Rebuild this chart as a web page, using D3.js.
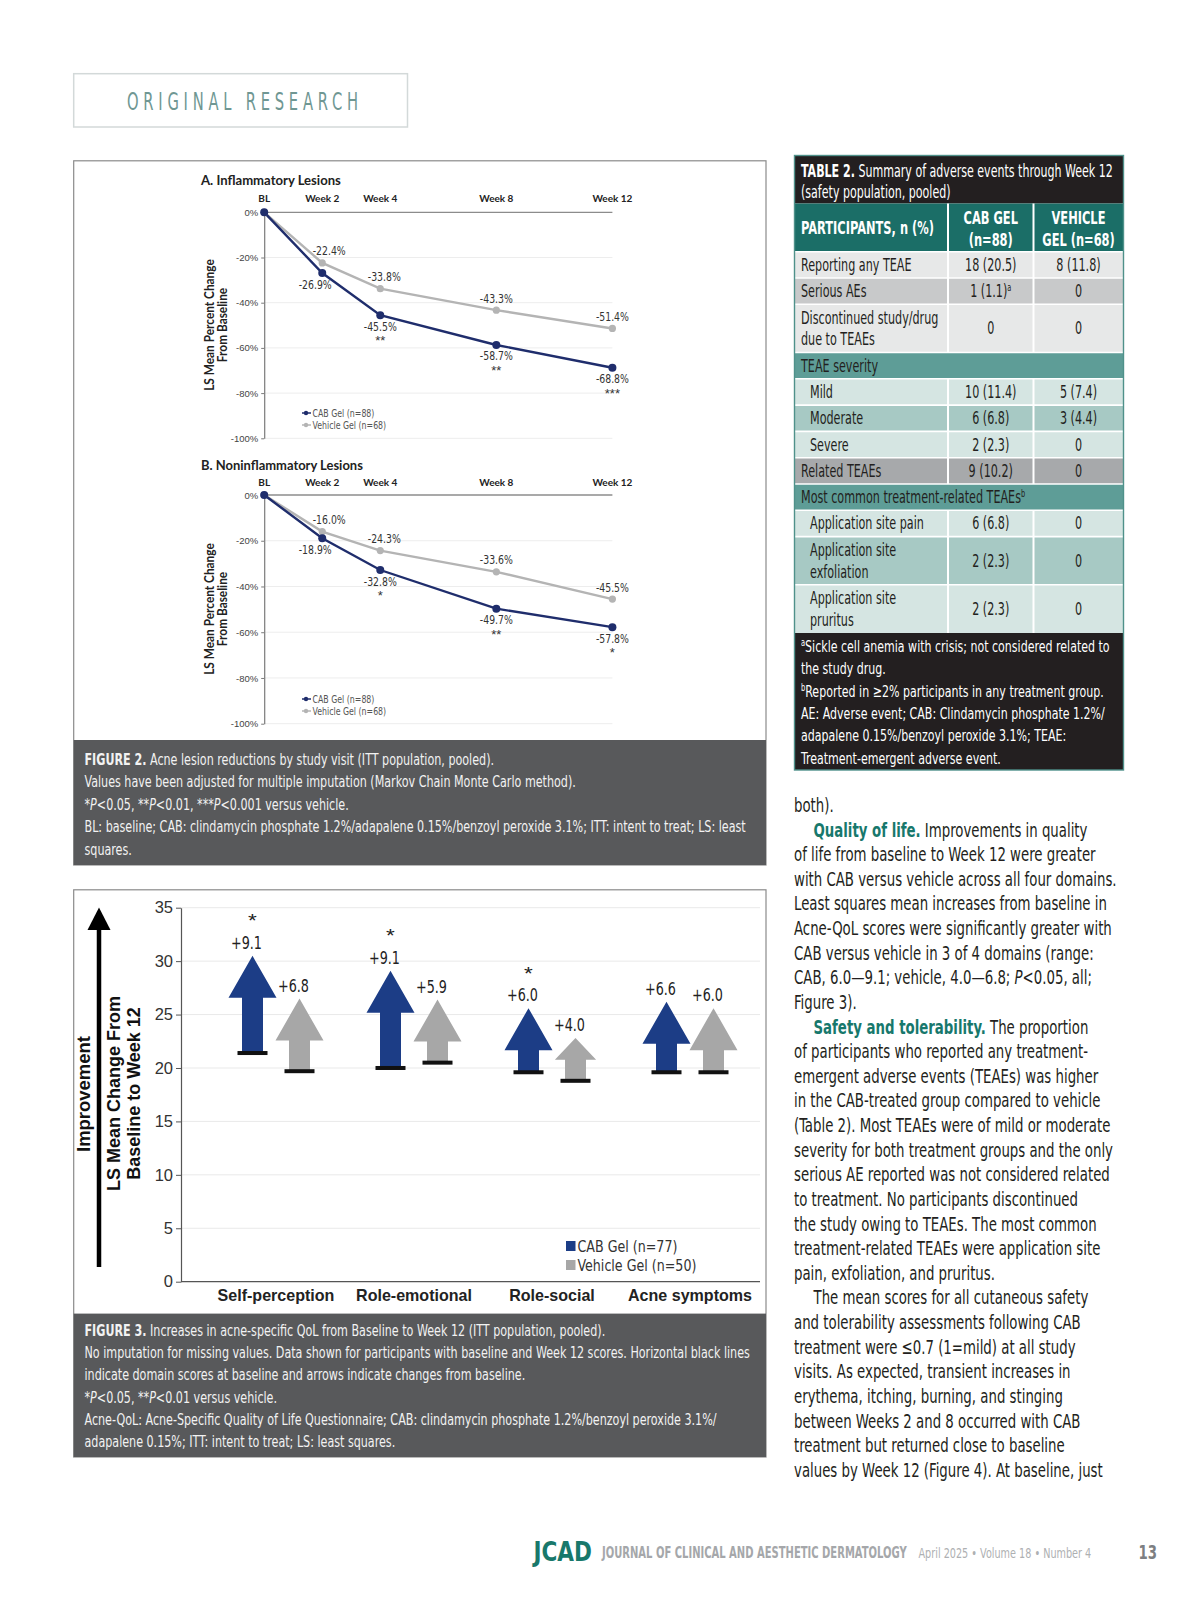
<!DOCTYPE html>
<html><head><meta charset="utf-8">
<script src="https://cdn.jsdelivr.net/npm/d3@7"></script>
<style>body{margin:0;background:#fff}</style>
</head><body>
<svg id="page" width="1200" height="1606"></svg>
<script>
// ---------------- DATA ----------------
const weeks = [0, 2, 4, 8, 12];
const weekLabels = ["BL", "Week 2", "Week 4", "Week 8", "Week 12"];
const pctTicks = [0, -20, -40, -60, -80, -100];
const inflamCAB = [0, -26.9, -45.5, -58.7, -68.8];
const inflamVeh = [0, -22.4, -33.8, -43.3, -51.4];
const inflamStars = ["", "", "**", "**", "***"];
const noninflamCAB = [0, -18.9, -32.8, -49.7, -57.8];
const noninflamVeh = [0, -16.0, -24.3, -33.6, -45.5];
const noninflamStars = ["", "", "*", "**", "*"];
const fig2Legend = ["CAB Gel (n=88)", "Vehicle Gel (n=68)"];

const domains = ["Self-perception", "Role-emotional", "Role-social", "Acne symptoms"];
const cabBaseline = [21.4, 20.0, 19.6, 19.6];
const cabChange = [9.1, 9.1, 6.0, 6.6];
const vehBaseline = [19.7, 20.5, 18.8, 19.6];
const vehChange = [6.8, 5.9, 4.0, 6.0];
const cabSig = ["*", "*", "*", ""];
const qolTicks = [0, 5, 10, 15, 20, 25, 30, 35];
const fig3Legend = ["CAB Gel (n=77)", "Vehicle Gel (n=50)"];

const tableHeader = ["PARTICIPANTS, n (%)", ["CAB GEL", "(n=88)"], ["VEHICLE", "GEL (n=68)"]];
const rowLabels = [["Reporting any TEAE"], ["Serious AEs"], ["Discontinued study/drug", "due to TEAEs"], ["TEAE severity"], ["Mild"], ["Moderate"], ["Severe"], ["Related TEAEs"], ["Most common treatment-related TEAEs"], ["Application site pain"], ["Application site", "exfoliation"], ["Application site", "pruritus"]];
const rowLabelNote = ["", "", "", "", "", "", "", "", "b", "", "", ""];
const rowCab = ["18 (20.5)", "1 (1.1)", "0", "", "10 (11.4)", "6 (6.8)", "2 (2.3)", "9 (10.2)", "", "6 (6.8)", "2 (2.3)", "2 (2.3)"];
const rowCabNote = ["", "a", "", "", "", "", "", "", "", "", "", ""];
const rowVeh = ["8 (11.8)", "0", "0", "", "5 (7.4)", "3 (4.4)", "0", "0", "", "0", "0", "0"];
const rowKinds = ["plain", "gray", "plain", "section", "sub", "subAlt", "sub", "related", "section", "sub", "subAlt", "sub"];

// ---------------- SETUP ----------------
const svg = d3.select("#page");
svg.append("rect").attr("width", 1200).attr("height", 1606).attr("fill", "#fff");
const COND = "'Liberation Sans Narrow','Arial Narrow','DejaVu Sans Condensed',sans-serif";
const SANS = "'Liberation Sans',Arial,sans-serif";
const GEO = "Lato,'Open Sans',sans-serif";
const B = "font-weight:bold;";
const I = "font-style:italic;";
const SUP = "font-size:10px;baseline-shift:super;";
const HEAD = "font-weight:bold;fill:#17786c;";
const CAB_C = "#1c3d86", VEH_C = "#a7a7a7";
const CAB_L = "#1f2d6c", VEH_L = "#b4b4b4";

function addText(parent, x, y, parts, base, opts = {}) {
  const t = parent.append("text").attr("style", base).attr("text-anchor", opts.anchor || "start");
  (typeof parts === "string" ? [[parts]] : parts).forEach(p => {
    const s = t.append("tspan").text(p[0]);
    if (p[1]) s.attr("style", p[1]);
  });
  let k = opts.k || 1;
  if (opts.fit) k = opts.fit / t.node().getComputedTextLength();
  t.attr("transform", `translate(${x},${y})` + (opts.rot ? ` rotate(${opts.rot})` : "") + ` scale(${k},1)`);
  t.k = k;
  return t;
}
function classK(parts, base, target) {
  const t = addText(svg, -3000, -3000, parts, base, { fit: target });
  const k = t.k; t.remove(); return k;
}

// ---------------- HEADER ----------------
svg.append("rect").attr("x", 73.7).attr("y", 73.7).attr("width", 333.8).attr("height", 53.3)
  .attr("fill", "none").attr("stroke", "#d3d9d9").attr("stroke-width", 1.5);
addText(svg, 127, 110, "ORIGINAL RESEARCH", `font-family:${COND};font-size:24px;letter-spacing:7px;fill:#6f9793`, { fit: 236 });

// ---------------- FIGURE 2 ----------------
svg.append("rect").attr("x", 73.7).attr("y", 160.8).attr("width", 692.3).attr("height", 704.2)
  .attr("fill", "#fff").attr("stroke", "#8a8a8a").attr("stroke-width", 1.2);

const labStyle = `font-family:${COND};font-size:13px;fill:#333`;
const kLab = classK("-22.4%", labStyle, 33);
const headStyle = `font-family:${GEO};font-weight:bold;font-size:10px;fill:#222`;
const axTitleStyle = `font-family:${GEO};font-weight:bold;font-size:12.5px;fill:#222`;
const kAxT = classK("LS Mean Percent Change", axTitleStyle, 131.7);
const legStyle = `font-family:${COND};font-size:10.5px;fill:#555`;
const kLeg = classK(fig2Legend[0], legStyle, 62);

function panel(cfg) {
  const g = svg.append("g");
  const x = d3.scaleLinear().domain([0, 12]).range([264.2, 612.4]);
  const y = d3.scaleLinear().domain([0, -100]).range([cfg.y0, cfg.y1]);
  addText(g, 201, cfg.titleY, cfg.title, `font-family:${GEO};font-weight:bold;font-size:13px;fill:#222`, { fit: cfg.titleW });
  weeks.forEach((w, i) => addText(g, x(w), cfg.headY, weekLabels[i], headStyle, { anchor: "middle" }));
  g.selectAll(".grid").data(pctTicks.slice(1)).join("line")
    .attr("x1", x(0)).attr("x2", x(12)).attr("y1", d => y(d)).attr("y2", d => y(d))
    .attr("stroke", "#ededed").attr("stroke-width", 1);
  g.append("line").attr("x1", x(0)).attr("x2", x(12)).attr("y1", y(0)).attr("y2", y(0))
    .attr("stroke", "#8c8c8c").attr("stroke-width", 1.3);
  const ax = g.append("g").attr("transform", `translate(${x(0)},0)`)
    .call(d3.axisLeft(y).tickValues(pctTicks).tickFormat(d => d + "%").tickSize(3).tickSizeOuter(0).tickPadding(3));
  ax.select(".domain").attr("stroke", "#7a7a7a").attr("stroke-width", 1.2);
  ax.selectAll(".tick line").attr("stroke", "#7a7a7a");
  ax.selectAll(".tick text").attr("style", `font-family:${SANS};font-size:9.5px;fill:#444`);

  const line = d3.line().x((d, i) => x(weeks[i])).y(d => y(d));
  g.append("path").datum(cfg.veh).attr("d", line).attr("fill", "none").attr("stroke", VEH_L).attr("stroke-width", 2.4);
  g.append("path").datum(cfg.cab).attr("d", line).attr("fill", "none").attr("stroke", CAB_L).attr("stroke-width", 2.4);
  g.selectAll(".pv").data(cfg.veh).join("circle").attr("cx", (d, i) => x(weeks[i])).attr("cy", d => y(d)).attr("r", 3.6).attr("fill", VEH_L);
  g.selectAll(".pc").data(cfg.cab).join("circle").attr("cx", (d, i) => x(weeks[i])).attr("cy", d => y(d)).attr("r", 4).attr("fill", CAB_L);

  cfg.veh.forEach((v, i) => {
    if (i === 0) return;
    const dx = i === 1 ? 7 : (i === 2 ? 4 : 0);
    addText(g, x(weeks[i]) + dx, y(v) - 7.5, v.toFixed(1) + "%", labStyle, { anchor: "middle", k: kLab });
  });
  cfg.cab.forEach((v, i) => {
    if (i === 0) return;
    const dx = i === 1 ? -7 : 0;
    addText(g, x(weeks[i]) + dx, y(v) + 15.5, v.toFixed(1) + "%", labStyle, { anchor: "middle", k: kLab });
    if (cfg.stars[i]) addText(g, x(weeks[i]) + dx, y(v) + 30, cfg.stars[i], `font-family:${SANS};font-size:13px;fill:#333`, { anchor: "middle" });
  });

  fig2Legend.forEach((t, i) => {
    const ly = cfg.legY + i * 12, c = i === 0 ? CAB_L : VEH_L;
    g.append("line").attr("x1", 302).attr("x2", 311).attr("y1", ly).attr("y2", ly).attr("stroke", c).attr("stroke-width", 1.5);
    g.append("circle").attr("cx", 306).attr("cy", ly).attr("r", 2.2).attr("fill", c);
    addText(g, 312.5, ly + 3.5, t, legStyle, { k: kLeg });
  });

  addText(g, 213.5, cfg.axCY, "LS Mean Percent Change", axTitleStyle, { anchor: "middle", rot: -90, k: kAxT });
  addText(g, 227, cfg.axCY, "From Baseline", axTitleStyle, { anchor: "middle", rot: -90, k: kAxT });
}
panel({ title: "A. Inflammatory Lesions", titleW: 140, titleY: 185, headY: 201.5, y0: 212.3, y1: 438.3,
  cab: inflamCAB, veh: inflamVeh, stars: inflamStars, legY: 413, axCY: 325 });
panel({ title: "B. Noninflammatory Lesions", titleW: 162, titleY: 470, headY: 486, y0: 495, y1: 723.7,
  cab: noninflamCAB, veh: noninflamVeh, stars: noninflamStars, legY: 699, axCY: 609 });

// caption
const capStyle = `font-family:${COND};font-size:16px;fill:#f2f2f2`;
const kCap = classK("No imputation for missing values. Data shown for participants with baseline and Week 12 scores. Horizontal black lines", capStyle, 666);
svg.append("rect").attr("x", 73.7).attr("y", 740).attr("width", 692.3).attr("height", 125).attr("fill", "#58595b");
const fig2Cap = [
  [["FIGURE 2.", B], [" Acne lesion reductions by study visit (ITT population, pooled)."]],
  [["Values have been adjusted for multiple imputation (Markov Chain Monte Carlo method)."]],
  [["*"], ["P", I], ["<0.05, **"], ["P", I], ["<0.01, ***"], ["P", I], ["<0.001 versus vehicle."]],
  [["BL: baseline; CAB: clindamycin phosphate 1.2%/adapalene 0.15%/benzoyl peroxide 3.1%; ITT: intent to treat; LS: least"]],
  [["squares."]]
];
fig2Cap.forEach((l, i) => addText(svg, 84.5, 765 + i * 22.45, l, capStyle, { k: kCap }));

// ---------------- FIGURE 3 ----------------
svg.append("rect").attr("x", 73.7).attr("y", 889.8).attr("width", 692.3).attr("height", 567.2)
  .attr("fill", "#fff").attr("stroke", "#8a8a8a").attr("stroke-width", 1.2);
const g3 = svg.append("g");
const y3 = d3.scaleLinear().domain([0, 35]).range([1281.7, 907.7]);
const x3 = d3.scaleBand().domain(domains).range([207, 759]);
g3.selectAll(".grid").data(qolTicks.slice(1)).join("line")
  .attr("x1", 181).attr("x2", 760).attr("y1", d => y3(d)).attr("y2", d => y3(d))
  .attr("stroke", "#e9e9e9").attr("stroke-width", 1);
const ax3 = g3.append("g").attr("transform", "translate(181,0)")
  .call(d3.axisLeft(y3).tickValues(qolTicks).tickSize(5).tickSizeOuter(0).tickPadding(3));
ax3.select(".domain").attr("stroke", "#555").attr("stroke-width", 1.2);
ax3.selectAll(".tick line").attr("stroke", "#555");
ax3.selectAll(".tick text").attr("style", `font-family:${SANS};font-size:16.5px;fill:#333`);
g3.append("line").attr("x1", 181).attr("x2", 760).attr("y1", y3(0)).attr("y2", y3(0)).attr("stroke", "#555").attr("stroke-width", 1.3);

const valStyle = `font-family:${COND};font-size:18px;fill:#222`;
const kVal = classK("+9.1", valStyle, 31);
function arrow(cx, base, change, color, sig) {
  const yb = y3(base), yt = y3(base + change);
  const len = yb - yt;
  const hh = Math.min(42, len - 21);
  const hw = (34 + hh / 3) / 2, sw = 10.5;
  const pts = [[cx - sw, yb], [cx - sw, yt + hh], [cx - hw, yt + hh], [cx, yt], [cx + hw, yt + hh], [cx + sw, yt + hh], [cx + sw, yb]];
  g3.append("polygon").attr("points", pts.map(p => p.join(",")).join(" ")).attr("fill", color);
  g3.append("rect").attr("x", cx - 15).attr("y", yb - 2).attr("width", 30).attr("height", 4).attr("fill", "#111");
  addText(g3, cx - 6, yt - 7, "+" + change.toFixed(1), valStyle, { anchor: "middle", k: kVal });
  if (sig) addText(g3, cx, yt - 28.5, sig, `font-family:${SANS};font-size:18px;fill:#222`, { anchor: "middle", k: 1.25 });
}
domains.forEach((d, i) => {
  const c = x3(d) + x3.bandwidth() / 2;
  arrow(c - 23.5, cabBaseline[i], cabChange[i], CAB_C, cabSig[i]);
  arrow(c + 23.5, vehBaseline[i], vehChange[i], VEH_C, "");
});
const catStyle = `font-family:${SANS};font-weight:bold;font-size:16.5px;fill:#222`;
const kCat = classK("Self-perception", catStyle, 117);
domains.forEach(d => addText(g3, x3(d) + x3.bandwidth() / 2, 1301, d, catStyle, { anchor: "middle", k: kCat }));

const leg3Style = `font-family:${COND};font-size:15px;fill:#333`;
const kLeg3 = classK(fig3Legend[0], leg3Style, 100);
fig3Legend.forEach((t, i) => {
  const ly = 1246 + i * 19;
  g3.append("rect").attr("x", 566).attr("y", ly - 5).attr("width", 9.5).attr("height", 10).attr("fill", i === 0 ? CAB_C : VEH_C);
  addText(g3, 577.5, ly + 5.5, t, leg3Style, { k: kLeg3 });
});

// improvement arrow + titles
g3.append("line").attr("x1", 99).attr("x2", 99).attr("y1", 1267).attr("y2", 926).attr("stroke", "#000").attr("stroke-width", 4.5);
g3.append("polygon").attr("points", "87.5,930 99,907.5 110.5,930").attr("fill", "#000");
const ttlStyle = `font-family:${SANS};font-weight:bold;font-size:19px;fill:#111`;
addText(g3, 90, 1094, "Improvement", ttlStyle, { anchor: "middle", rot: -90, fit: 116 });
const kT3 = classK("LS Mean Change From", ttlStyle, 195);
addText(g3, 119.5, 1093.5, "LS Mean Change From", ttlStyle, { anchor: "middle", rot: -90, k: kT3 });
addText(g3, 139.5, 1093.5, "Baseline to Week 12", ttlStyle, { anchor: "middle", rot: -90, k: kT3 });

svg.append("rect").attr("x", 73.7).attr("y", 1313.6).attr("width", 692.3).attr("height", 143.4).attr("fill", "#58595b");
const fig3Cap = [
  [["FIGURE 3.", B], [" Increases in acne-specific QoL from Baseline to Week 12 (ITT population, pooled)."]],
  [["No imputation for missing values. Data shown for participants with baseline and Week 12 scores. Horizontal black lines"]],
  [["indicate domain scores at baseline and arrows indicate changes from baseline."]],
  [["*"], ["P", I], ["<0.05, **"], ["P", I], ["<0.01 versus vehicle."]],
  [["Acne-QoL: Acne-Specific Quality of Life Questionnaire; CAB: clindamycin phosphate 1.2%/benzoyl peroxide 3.1%/"]],
  [["adapalene 0.15%; ITT: intent to treat; LS: least squares."]]
];
fig3Cap.forEach((l, i) => addText(svg, 84.5, 1335.5 + i * 22.35, l, capStyle, { k: kCap }));

// ---------------- TABLE 2 ----------------
const tg = svg.append("g");
const cx0 = 794.5, cx1 = 948, cx2 = 1033.5, cx3 = 1123.5;
tg.append("rect").attr("x", cx0).attr("y", 155.5).attr("width", cx3 - cx0).attr("height", 48).attr("fill", "#231f20");
const ttStyle = `font-family:${COND};font-size:17px;fill:#fff`;
const kTT = classK([["TABLE 2.", B], [" Summary of adverse events through Week 12"]], ttStyle, 312);
addText(tg, 801, 176.5, [["TABLE 2.", B], [" Summary of adverse events through Week 12"]], ttStyle, { k: kTT });
addText(tg, 801, 197.5, "(safety population, pooled)", ttStyle, { k: kTT });

tg.append("rect").attr("x", cx0).attr("y", 203.5).attr("width", cx3 - cx0).attr("height", 48.2).attr("fill", "#1b6e67");
const thStyle = `font-family:${COND};font-weight:bold;font-size:17.5px;fill:#fff`;
const kTH = classK(tableHeader[0], thStyle, 133);
addText(tg, 801, 234, tableHeader[0], thStyle, { k: kTH });
[[tableHeader[1], (cx1 + cx2) / 2], [tableHeader[2], (cx2 + cx3) / 2]].forEach(([ls, xc]) => {
  addText(tg, xc, 224.3, ls[0], thStyle, { anchor: "middle", k: kTH });
  addText(tg, xc, 245.5, ls[1], thStyle, { anchor: "middle", k: kTH });
});
[cx1, cx2].forEach(xx => tg.append("line").attr("x1", xx).attr("x2", xx).attr("y1", 203.5).attr("y2", 251.7).attr("stroke", "#fff").attr("stroke-width", 2));

const fills = { plain: "#e7e8e8", gray: "#c8c9ca", section: "#5e9d97", sub: "#d5e5e2", subAlt: "#a7c9c4", related: "#a7a9ab" };
const tdStyle = `font-family:${COND};font-size:17px;fill:#231f20`;
const kTD = classK("Application site pain", tdStyle, 114);
let ry = 251.7;
rowLabels.forEach((lab, i) => {
  const h = lab.length > 1 ? 48.2 : 26.3;
  const kind = rowKinds[i];
  tg.append("rect").attr("x", cx0).attr("y", ry).attr("width", cx3 - cx0).attr("height", h).attr("fill", fills[kind]);
  const mid = ry + h / 2;
  const lx = (kind === "sub" || kind === "subAlt") ? 810 : 801;
  lab.forEach((l, j) => {
    const yy = mid + (lab.length > 1 ? (j === 0 ? -10.8 : 10.8) : 0) + 6;
    const parts = [[l]];
    if (rowLabelNote[i] && j === lab.length - 1) parts.push([rowLabelNote[i], SUP]);
    addText(tg, lx, yy, parts, tdStyle, { k: kTD });
  });
  if (kind !== "section") {
    const cp = [[rowCab[i]]];
    if (rowCabNote[i]) cp.push([rowCabNote[i], SUP]);
    addText(tg, (cx1 + cx2) / 2, mid + 6, cp, tdStyle, { anchor: "middle", k: kTD });
    addText(tg, (cx2 + cx3) / 2, mid + 6, rowVeh[i], tdStyle, { anchor: "middle", k: kTD });
    [cx1, cx2].forEach(xx => tg.append("line").attr("x1", xx).attr("x2", xx).attr("y1", ry).attr("y2", ry + h).attr("stroke", "#fff").attr("stroke-width", 2));
  }
  tg.append("line").attr("x1", cx0).attr("x2", cx3).attr("y1", ry).attr("y2", ry).attr("stroke", "#fff").attr("stroke-width", 1.6);
  ry += h;
});
tg.append("rect").attr("x", cx0).attr("y", ry).attr("width", cx3 - cx0).attr("height", 770 - ry).attr("fill", "#231f20");
const fnStyle = `font-family:${COND};font-size:16.5px;fill:#fff`;
const kFN = classK("AE: Adverse event; CAB: Clindamycin phosphate 1.2%/", fnStyle, 304);
const footnotes = [
  [["a", SUP], ["Sickle cell anemia with crisis; not considered related to"]],
  [["the study drug."]],
  [["b", SUP], ["Reported in \u22652% participants in any treatment group."]],
  [["AE: Adverse event; CAB: Clindamycin phosphate 1.2%/"]],
  [["adapalene 0.15%/benzoyl peroxide 3.1%; TEAE:"]],
  [["Treatment-emergent adverse event."]]
];
footnotes.forEach((l, i) => addText(tg, 801, 652 + i * 22.35, l, fnStyle, { k: kFN }));
tg.append("rect").attr("x", cx0).attr("y", 155.5).attr("width", cx3 - cx0).attr("height", 614.5)
  .attr("fill", "none").attr("stroke", "#4f918a").attr("stroke-width", 1.4);

// ---------------- BODY TEXT ----------------
const bodyLines = [
  [["both)."]],
  [["Quality of life.", HEAD], [" Improvements in quality"]],
  [["of life from baseline to Week 12 were greater"]],
  [["with CAB versus vehicle across all four domains."]],
  [["Least squares mean increases from baseline in"]],
  [["Acne-QoL scores were significantly greater with"]],
  [["CAB versus vehicle in 3 of 4 domains (range:"]],
  [["CAB, 6.0\u20149.1; vehicle, 4.0\u20146.8; "], ["P", I], ["<0.05, all;"]],
  [["Figure 3)."]],
  [["Safety and tolerability.", HEAD], [" The proportion"]],
  [["of participants who reported any treatment-"]],
  [["emergent adverse events (TEAEs) was higher"]],
  [["in the CAB-treated group compared to vehicle"]],
  [["(Table 2). Most TEAEs were of mild or moderate"]],
  [["severity for both treatment groups and the only"]],
  [["serious AE reported was not considered related"]],
  [["to treatment. No participants discontinued"]],
  [["the study owing to TEAEs. The most common"]],
  [["treatment-related TEAEs were application site"]],
  [["pain, exfoliation, and pruritus."]],
  [["The mean scores for all cutaneous safety"]],
  [["and tolerability assessments following CAB"]],
  [["treatment were \u22640.7 (1=mild) at all study"]],
  [["visits. As expected, transient increases in"]],
  [["erythema, itching, burning, and stinging"]],
  [["between Weeks 2 and 8 occurred with CAB"]],
  [["treatment but returned close to baseline"]],
  [["values by Week 12 (Figure 4). At baseline, just"]]
];
const bodyIndent = [1, 9, 20];
const bodyStyle = `font-family:${COND};font-size:20px;fill:#231f20`;
const kBody = classK("with CAB versus vehicle across all four domains.", bodyStyle, 323);
bodyLines.forEach((l, i) => addText(svg, bodyIndent.includes(i) ? 813.5 : 794, 812 + i * 24.62, l, bodyStyle, { k: kBody }));

// ---------------- FOOTER ----------------
addText(svg, 533.5, 1560.5, "JCAD", `font-family:${COND};font-weight:bold;font-size:26px;fill:#18786b`, { fit: 58.5 });
addText(svg, 602, 1558.3, "JOURNAL OF CLINICAL AND AESTHETIC DERMATOLOGY", `font-family:${COND};font-weight:bold;font-size:15px;fill:#a5a7aa`, { fit: 305 });
addText(svg, 918.5, 1558.3, "April 2025 \u2022 Volume 18 \u2022 Number 4", `font-family:${COND};font-size:14.5px;fill:#aeb0b2`, { fit: 173 });
addText(svg, 1138.6, 1559, "13", `font-family:${COND};font-weight:bold;font-size:20px;fill:#7d7f82`, { fit: 18.5 });
</script>
</body></html>
